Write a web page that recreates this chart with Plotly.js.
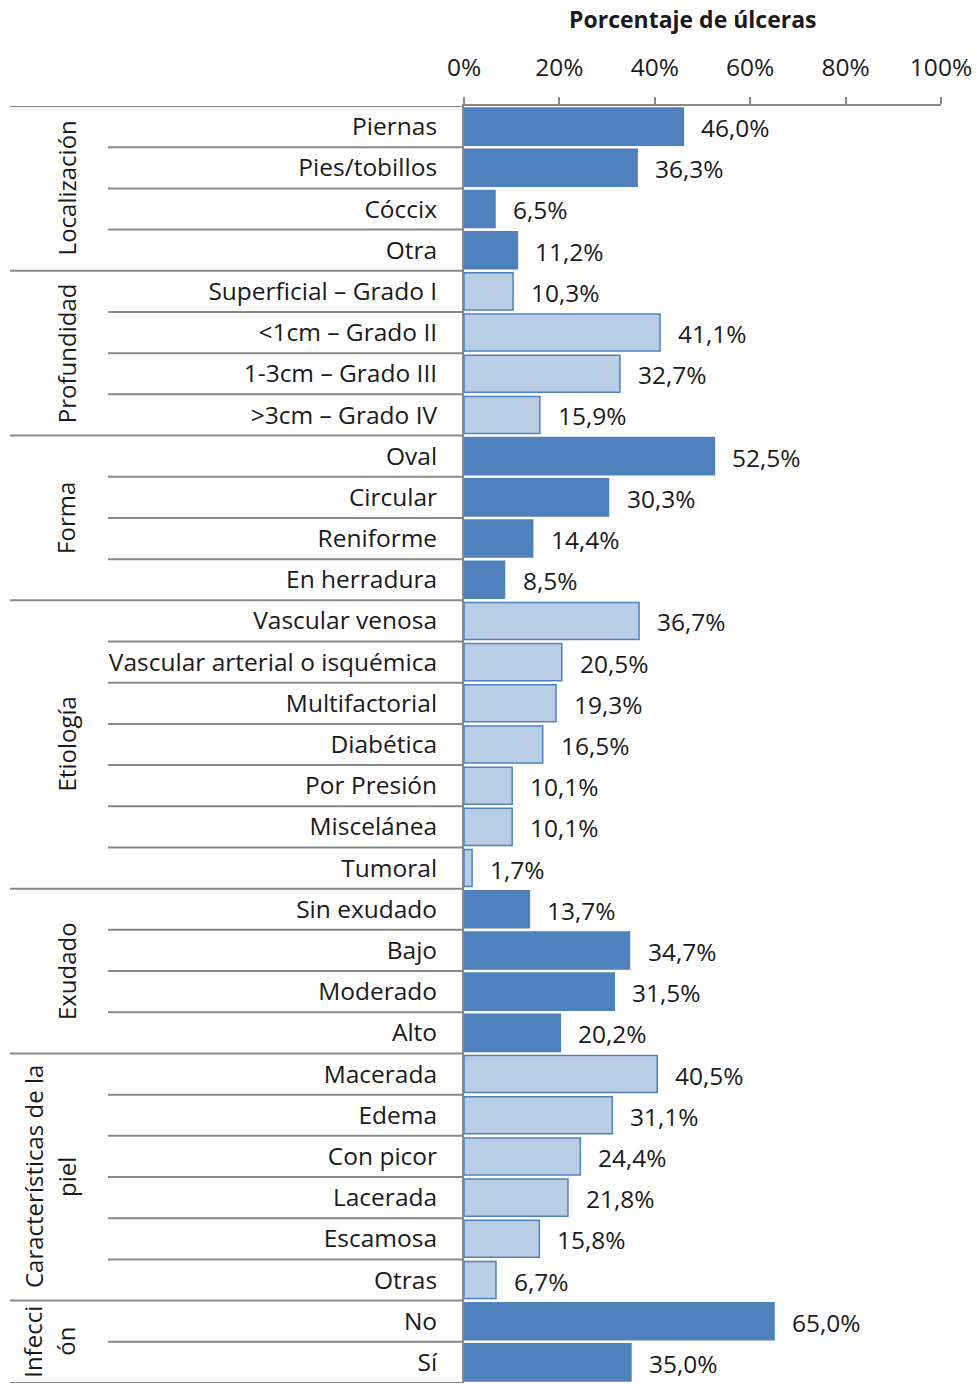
<!DOCTYPE html>
<html>
<head>
<meta charset="utf-8">
<script src="https://cdn.plot.ly/plotly-3.0.1.min.js"></script>
<style>html,body{margin:0;padding:0;background:#fff;}#chart{width:980px;height:1384px;}</style>
</head>
<body>
<div id="chart"></div>
<script>
const categories = ["Piernas","Pies/tobillos","Cóccix","Otra",
  "Superficial – Grado I","<1cm – Grado II","1-3cm – Grado III",">3cm – Grado IV",
  "Oval","Circular","Reniforme","En herradura",
  "Vascular venosa","Vascular arterial o isquémica","Multifactorial","Diabética","Por Presión","Miscelánea","Tumoral",
  "Sin exudado","Bajo","Moderado","Alto",
  "Macerada","Edema","Con picor","Lacerada","Escamosa","Otras",
  "No","Sí"];
const values = [46.0,36.3,6.5,11.2,
  10.3,41.1,32.7,15.9,
  52.5,30.3,14.4,8.5,
  36.7,20.5,19.3,16.5,10.1,10.1,1.7,
  13.7,34.7,31.5,20.2,
  40.5,31.1,24.4,21.8,15.8,6.7,
  65.0,35.0];
const groupNames = [["Localización"],["Profundidad"],["Forma"],["Etiología"],["Exudado"],["Características de la","piel"],["Infecci","ón"]];
const groupSizes = [4,4,4,7,4,6,2];
const groupShade = ["dark","light","dark","light","dark","light","dark"];
const xTicks = [0,20,40,60,80,100];

const DARK = "#4F81BD", LIGHT = "#B9CDE5", LINE = "#888888", TXT = "#1a1a1a";
const FONT = "'Open Sans', sans-serif";
const FS = 24.5, FG = 24, FT = 23;
const L = 464, R = 941, W = R - L;
const px = p => (p - L) / W;

const fills = [], borders = [];
groupSizes.forEach((n, g) => { for (let i = 0; i < n; i++) { fills.push(groupShade[g] === "dark" ? DARK : LIGHT); borders.push(DARK); } });

const shapes = [], annotations = [];
let start = 0;
groupSizes.forEach((n, g) => {
  shapes.push({type:"line", xref:"paper", yref:"y", x0:px(10), x1:0, y0:start-0.5, y1:start-0.5, line:{color:LINE,width:2}});
  for (let i = 1; i < n; i++) {
    shapes.push({type:"line", xref:"paper", yref:"y", x0:px(108), x1:0, y0:start+i-0.5, y1:start+i-0.5, line:{color:LINE,width:2}});
  }
  const center = start + (n - 1) / 2;
  const lines = groupNames[g];
  const xs = lines.length === 1 ? [66] : [33, 66];
  lines.forEach((t, k) => {
    annotations.push({xref:"paper", yref:"y", x:px(xs[k]), y:center, text:t, textangle:-90, showarrow:false, font:{family:FONT,size:FG,color:TXT}, xanchor:"center", yanchor:"middle"});
  });
  start += n;
});
shapes.push({type:"line", xref:"paper", yref:"y", x0:px(10), x1:0, y0:start-0.5, y1:start-0.5, line:{color:LINE,width:2}});

categories.forEach((c, i) => {
  annotations.push({x:values[i], y:c, xref:"x", yref:"y", text:values[i].toFixed(1).replace(".", ",") + "%", showarrow:false, xanchor:"left", yanchor:"middle", xshift:16, yshift:-1, font:{family:FONT,size:FS,color:TXT}});
});

annotations.push({xref:"paper", yref:"paper", x:px(693), y:1, yshift:87, text:"<b>Porcentaje de úlceras</b>", showarrow:false, xanchor:"center", yanchor:"middle", font:{family:FONT,size:FT,color:TXT}});

const trace = {
  type:"bar", orientation:"h", x:values, y:categories,
  marker:{color:fills, line:{color:borders, width:1.5}},
  hoverinfo:"none"
};

const layout = {
  width:980, height:1384,
  margin:{l:L, r:980-R, t:106, b:1, pad:0},
  paper_bgcolor:"#fff", plot_bgcolor:"#fff",
  bargap:0.1,
  showlegend:false,
  font:{family:FONT, size:FS, color:TXT},
  xaxis:{side:"top", range:[0,100], tickvals:xTicks, ticktext:xTicks.map(v=>v+"%"), showgrid:false, zeroline:false,
    showline:true, linecolor:LINE, linewidth:2, ticks:"outside", ticklen:7, tickwidth:2, tickcolor:LINE,
    ticklabelstandoff:11,
    tickfont:{family:FONT,size:FS,color:TXT}, fixedrange:true},
  yaxis:{type:"category", range:[categories.length-0.5, -0.5], showgrid:false, zeroline:false,
    showline:true, linecolor:LINE, linewidth:2, ticks:"", ticklabelstandoff:20,
    tickfont:{family:FONT,size:FS,color:TXT}, fixedrange:true},
  shapes:shapes, annotations:annotations
};

Plotly.newPlot("chart", [trace], layout, {displayModeBar:false, staticPlot:true});
</script>
</body>
</html>
